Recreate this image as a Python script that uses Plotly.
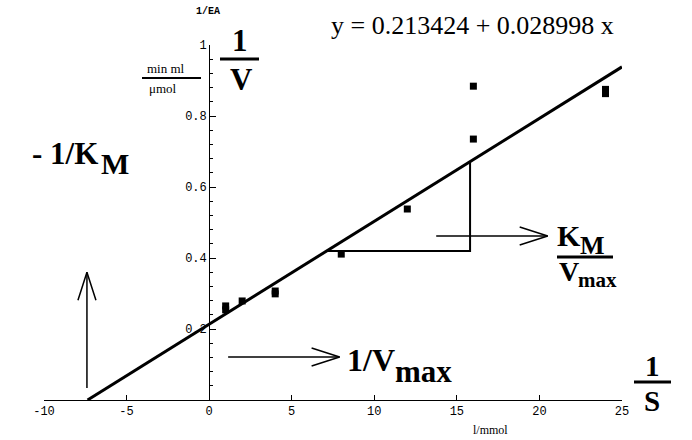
import plotly.graph_objects as go

# ---- data ----
sub_x = [1, 1, 2, 4, 4, 8, 12, 16, 16, 24, 24]          # 1/S  (l/mmol)
inv_v = [0.265, 0.254, 0.279, 0.307, 0.299, 0.411, 0.538, 0.735, 0.884, 0.875, 0.863]  # 1/V
fit_intercept = 0.213424
fit_slope = 0.028998
x_ticks = [-10, -5, 0, 5, 10, 15, 20, 25]
x_tick_labels = ["-10", "-5", "0", "5", "10", "15", "20", "25"]
y_ticks = [0.2, 0.4, 0.6, 0.8, 1.0]
y_tick_labels = ["0.2", "0.4", "0.6", "0.8", "1"]
tri_y = 0.42     # horizontal leg of slope triangle
tri_x = 15.8     # vertical leg of slope triangle
arrows = [  # (x0, y0, x1, y1) in data units
    (-7.4, 0.034, -7.4, 0.36),
    (1.15, 0.121, 7.9, 0.121),
    (13.75, 0.462, 20.5, 0.462),
]

# ---- geometry ----
W, H = 692, 440
ML, MR, MT, MB = 44, 70, 45, 40
XR = [-10, 25]
YR = [0, 1]
pw = W - ML - MR
ph = H - MT - MB
ppx = pw / (XR[1] - XR[0])
ppy = ph / (YR[1] - YR[0])


def paper(px, py):
    return (px - ML) / pw, (H - MB - py) / ph


fig = go.Figure()

# regression line
x_start = -fit_intercept / fit_slope
x_end = XR[1]
fig.add_trace(go.Scatter(
    x=[x_start, x_end],
    y=[fit_intercept + fit_slope * x_start, fit_intercept + fit_slope * x_end],
    mode="lines", line=dict(color="black", width=3), hoverinfo="skip"))

# data points
fig.add_trace(go.Scatter(x=sub_x, y=inv_v, mode="markers",
                         marker=dict(symbol="square", size=7, color="black")))

# slope triangle
tri_left = (tri_y - fit_intercept) / fit_slope
fig.add_trace(go.Scatter(
    x=[tri_left, tri_x, tri_x],
    y=[tri_y, tri_y, fit_intercept + fit_slope * tri_x],
    mode="lines", line=dict(color="black", width=2), hoverinfo="skip"))

# arrows with open heads
head_len, head_half = 28, 9
for (x0, y0, x1, y1) in arrows:
    dxp = (x1 - x0) * ppx
    dyp = (y1 - y0) * ppy
    L = (dxp ** 2 + dyp ** 2) ** 0.5
    ux, uy = dxp / L, dyp / L
    nx, ny = -uy, ux
    bx = x1 - ux * head_len / ppx
    by = y1 - uy * head_len / ppy
    h1 = (bx + nx * head_half / ppx, by + ny * head_half / ppy)
    h2 = (bx - nx * head_half / ppx, by - ny * head_half / ppy)
    fig.add_trace(go.Scatter(
        x=[x0, x1, None, h1[0], x1, h2[0]],
        y=[y0, y1, None, h1[1], y1, h2[1]],
        mode="lines", line=dict(color="black", width=1.5), hoverinfo="skip"))

serif = "Liberation Serif"
mono = "Liberation Mono"


def text(px, py, s, size, family=serif, xanchor="center"):
    x, y = paper(px, py)
    fig.add_annotation(x=x, y=y, xref="paper", yref="paper", text=s,
                       showarrow=False, xanchor=xanchor, yanchor="middle",
                       font=dict(family=family, size=size, color="black"))


def hline(px0, px1, py, width):
    x0, y0 = paper(px0, py)
    x1, _ = paper(px1, py)
    fig.add_shape(type="line", xref="paper", yref="paper", x0=x0, x1=x1,
                  y0=y0, y1=y0, line=dict(color="black", width=width))


text(472, 25, "y = 0.213424 + 0.028998 x", 26)
text(208, 12, "<b>1/EA</b>", 10, family=mono)
text(166, 68, "min ml", 13)
hline(142, 201, 78, 2)
text(163, 89, "μmol", 13)
text(240, 40, "<b>1</b>", 31)
hline(220, 259, 59, 3)
text(241, 79, "<b>V</b>", 31)

# "- 1/K_M"
text(30, 153, "<b>- 1/K</b>", 31, xanchor="left")
text(99, 163, "<b>M</b>", 30, xanchor="left")
# K_M / V_max
text(555, 236, "<b>K</b>", 30, xanchor="left")
text(578, 245, "<b>M</b>", 26, xanchor="left")
hline(557, 613, 257, 3)
text(557, 271, "<b>V</b>", 28, xanchor="left")
text(576, 280, "<b>max</b>", 21, xanchor="left")
# 1/V_max
text(345, 360, "<b>1/V</b>", 32, xanchor="left")
text(393, 371, "<b>max</b>", 31, xanchor="left")
# 1/S
text(652, 366, "<b>1</b>", 29)
hline(634, 671, 382, 3)
text(652, 401, "<b>S</b>", 29)
text(490, 430, "l/mmol", 12)

fig.update_layout(
    width=W, height=H, margin=dict(l=ML, r=MR, t=MT, b=MB),
    plot_bgcolor="white", paper_bgcolor="white", showlegend=False,
    xaxis=dict(range=XR, showgrid=False, zeroline=False, showline=True,
               linecolor="black", linewidth=1, ticks="inside", ticklen=5,
               tickcolor="black", tickvals=x_ticks, ticktext=x_tick_labels,
               tickfont=dict(family=mono, size=12, color="black")),
    yaxis=dict(range=YR, showgrid=False, zeroline=False, showline=True,
               linecolor="black", linewidth=1, anchor="free",
               position=(0 - XR[0]) / (XR[1] - XR[0]),
               ticks="inside", ticklen=6, tickcolor="black",
               tickvals=y_ticks, ticktext=y_tick_labels,
               tickfont=dict(family=mono, size=12, color="black"),
               minor=dict(ticks="inside", ticklen=3, tickcolor="black",
                          tickvals=[round(0.04 * i, 2) for i in range(1, 25)])),
)

fig.write_html("out.html", config={"displayModeBar": False},
               post_script="document.body.style.margin='0';")
